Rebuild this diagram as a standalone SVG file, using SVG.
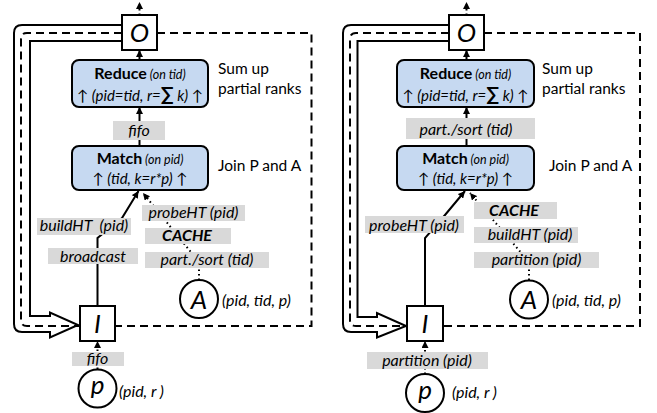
<svg xmlns="http://www.w3.org/2000/svg" width="657" height="413" viewBox="0 0 657 413">
<style>
.bg{fill:#fff}
.box{fill:#fff;stroke:#000;stroke-width:2}
.op{fill:#c6d9f1;stroke:#000;stroke-width:2}
.lbl{fill:#d9d9d9}
.t{font-family:Lato,"Liberation Sans",sans-serif;fill:#000;font-size:16px}
.c{text-anchor:middle}
.i{font-style:italic}
.b{font-weight:bold}
.big{font-size:26px;font-style:italic;text-anchor:middle}
.sm{font-size:12.5px;font-style:italic}
.note{font-size:15.5px}
.ln2{font-size:15px}
.an{font-size:16px;font-style:italic}
.pre{white-space:pre}
.conn{stroke:#000;stroke-width:2;fill:none}
.dot{stroke:#000;stroke-width:2;stroke-dasharray:1.5 3;fill:none}
.dash{stroke:#000;stroke-width:2;stroke-dasharray:8 5;fill:none}
.band{stroke:#000;stroke-width:2;fill:none;stroke-linejoin:miter}
</style>
<defs>
<marker id="ah" viewBox="0 0 8 8" refX="8" refY="4" markerWidth="7" markerHeight="7" orient="auto" markerUnits="userSpaceOnUse"><path d="M0,0 L8,4 L0,8 z" fill="#000"/></marker>
</defs>
<rect class="bg" x="0" y="0" width="657" height="413"/>

<!-- ================= LEFT PANEL ================= -->
<g id="connectors-left">
<path class="band" d="M122,41 H30 V316 H50 V312.5 L78,325 L50,337.5 V332 H22 Q14,332 14,324 V33 Q14,25 22,25 H122"/>
<path class="dash" d="M157,33 H311.5 V326 H115"/>
<path class="dash" d="M122,33 H27 Q21,33 21,39 V320 Q21,326 27,326 H80"/>
<path class="dot" d="M139.5,15 V2" marker-end="url(#ah)"/>
<path class="conn" d="M139.5,60 V50" marker-end="url(#ah)"/>
<path class="conn" d="M139.5,146 V107" marker-end="url(#ah)"/>
<path class="conn" d="M97.5,306 V238 L122,218 L138.5,191" marker-end="url(#ah)"/>
<path class="dot" d="M199,280 V262 L143,193" marker-end="url(#ah)"/>
<path class="dot" d="M97.5,369 V341" marker-end="url(#ah)"/>
</g>

<g id="L-O"><rect class="box" x="122" y="15" width="35" height="35"/><text class="t big" x="139.5" y="41.5">O</text></g>
<g id="L-reduce">
<rect class="op" x="72" y="60" width="136" height="47" rx="7"/>
<text class="t c" x="140" y="79"><tspan class="b">Reduce</tspan><tspan class="sm"> (on tid)</tspan></text>
<text class="t c i ln2" x="140" y="101">↑ (pid=tid, r=<tspan class="b" font-size="19" font-style="normal">∑</tspan> k) ↑</text>
</g>
<g id="L-reduce-note"><text class="t note" x="218" y="74">Sum up</text><text class="t note" x="218" y="94">partial ranks</text></g>
<g id="L-fifo1"><rect class="lbl" x="113" y="121" width="52" height="19"/><text class="t c i" x="139" y="135.5">fifo</text></g>
<g id="L-match">
<rect class="op" x="72" y="146" width="136" height="44" rx="7"/>
<text class="t c" x="140" y="164"><tspan class="b">Match</tspan><tspan class="sm"> (on pid)</tspan></text>
<text class="t c i ln2" x="140" y="184">↑ (tid, k=r*p) ↑</text>
</g>
<g id="L-match-note"><text class="t note" x="218" y="171">Join P and A</text></g>
<g id="L-probeHT"><rect class="lbl" x="142" y="205" width="103" height="16"/><text class="t c i" x="193.5" y="217.5">probeHT (pid)</text></g>
<g id="L-buildHT"><rect class="lbl" x="37" y="218" width="94" height="17"/><text class="t c i pre" x="84" y="231">buildHT  (pid)</text></g>
<g id="L-cache"><rect class="lbl" x="145" y="228" width="86" height="16"/><text class="t c i b" font-size="14.5" x="187" y="241">CACHE</text></g>
<g id="L-broadcast"><rect class="lbl" x="48" y="248" width="90" height="16"/><text class="t c i" x="93" y="261.5">broadcast</text></g>
<g id="L-partsort"><rect class="lbl" x="145" y="252" width="124" height="16"/><text class="t c i" x="207" y="264.5">part./sort (tid)</text></g>
<g id="L-A"><circle class="box" cx="199" cy="299" r="19"/><text class="t big" x="199" y="308.5">A</text><text class="t an" x="222" y="306">(pid, tid, p)</text></g>
<g id="L-I"><rect class="box" x="80" y="306" width="35" height="35"/><text class="t big" x="97.5" y="333">I</text></g>
<g id="L-fifo2"><rect class="lbl" x="72" y="352" width="52" height="14"/><text class="t c i" x="97.5" y="363.5">fifo</text></g>
<g id="L-p"><circle class="box" cx="97.5" cy="388.5" r="19"/><text class="t big" x="97.5" y="394">p</text><text class="t i" font-size="15" x="119" y="397">(pid, r )</text></g>

<!-- ================= RIGHT PANEL ================= -->
<g id="connectors-right">
<path class="band" d="M449,41 H357.5 V317 H377 V313 L406,326 L377,337.5 V332 H351 Q343,332 343,324 V33 Q343,25 351,25 H449"/>
<path class="dash" d="M484,33 H640 V326 H443"/>
<path class="dash" d="M449,33 H356 Q350,33 350,39 V320 Q350,326 356,326 H407"/>
<path class="dot" d="M466.5,15 V2" marker-end="url(#ah)"/>
<path class="conn" d="M466.5,60 V50" marker-end="url(#ah)"/>
<path class="conn" d="M466.5,146 V107" marker-end="url(#ah)"/>
<path class="conn" d="M425,306 V238 L445,215 L465,191" marker-end="url(#ah)"/>
<path class="dot" d="M529,280 V262 L470,193" marker-end="url(#ah)"/>
<path class="dot" d="M425,374 V341" marker-end="url(#ah)"/>
</g>

<g id="R-O"><rect class="box" x="449" y="15" width="35" height="35"/><text class="t big" x="466.5" y="41.5">O</text></g>
<g id="R-reduce">
<rect class="op" x="397" y="60" width="137" height="47" rx="7"/>
<text class="t c" x="465.5" y="79"><tspan class="b">Reduce</tspan><tspan class="sm"> (on tid)</tspan></text>
<text class="t c i ln2" x="465.5" y="101">↑ (pid=tid, r=<tspan class="b" font-size="19" font-style="normal">∑</tspan> k) ↑</text>
</g>
<g id="R-reduce-note"><text class="t note" x="542" y="74">Sum up</text><text class="t note" x="542" y="94">partial ranks</text></g>
<g id="R-partsort"><rect class="lbl" x="406" y="118" width="129" height="21"/><text class="t c i" x="466" y="135">part./sort (tid)</text></g>
<g id="R-match">
<rect class="op" x="397" y="146" width="137" height="44" rx="7"/>
<text class="t c" x="465.5" y="164"><tspan class="b">Match</tspan><tspan class="sm"> (on pid)</tspan></text>
<text class="t c i ln2" x="465.5" y="184">↑ (tid, k=r*p) ↑</text>
</g>
<g id="R-match-note"><text class="t note" x="549" y="171">Join P and A</text></g>
<g id="R-cache"><rect class="lbl" x="474" y="202" width="83" height="17"/><text class="t c i b" font-size="14.5" x="514" y="216">CACHE</text></g>
<g id="R-probeHT"><rect class="lbl" x="365" y="216" width="99" height="17"/><text class="t c i" x="414" y="230.5">probeHT (pid)</text></g>
<g id="R-buildHT"><rect class="lbl" x="474" y="227" width="104" height="16"/><text class="t c i" x="530" y="240">buildHT (pid)</text></g>
<g id="R-partition1"><rect class="lbl" x="474" y="252" width="125" height="16"/><text class="t c i" x="536.5" y="264.5">partition (pid)</text></g>
<g id="R-A"><circle class="box" cx="529" cy="299.5" r="19"/><text class="t big" x="529" y="309">A</text><text class="t an" x="552" y="306">(pid, tid, p)</text></g>
<g id="R-I"><rect class="box" x="407" y="306" width="36" height="35"/><text class="t big" x="425" y="333">I</text></g>
<g id="R-partition2"><rect class="lbl" x="367" y="352" width="121" height="17"/><text class="t c i" x="427" y="366">partition (pid)</text></g>
<g id="R-p"><circle class="box" cx="425" cy="393" r="19"/><text class="t big" x="425" y="398.5">p</text><text class="t i" font-size="15" x="452" y="398">(pid, r )</text></g>
</svg>
